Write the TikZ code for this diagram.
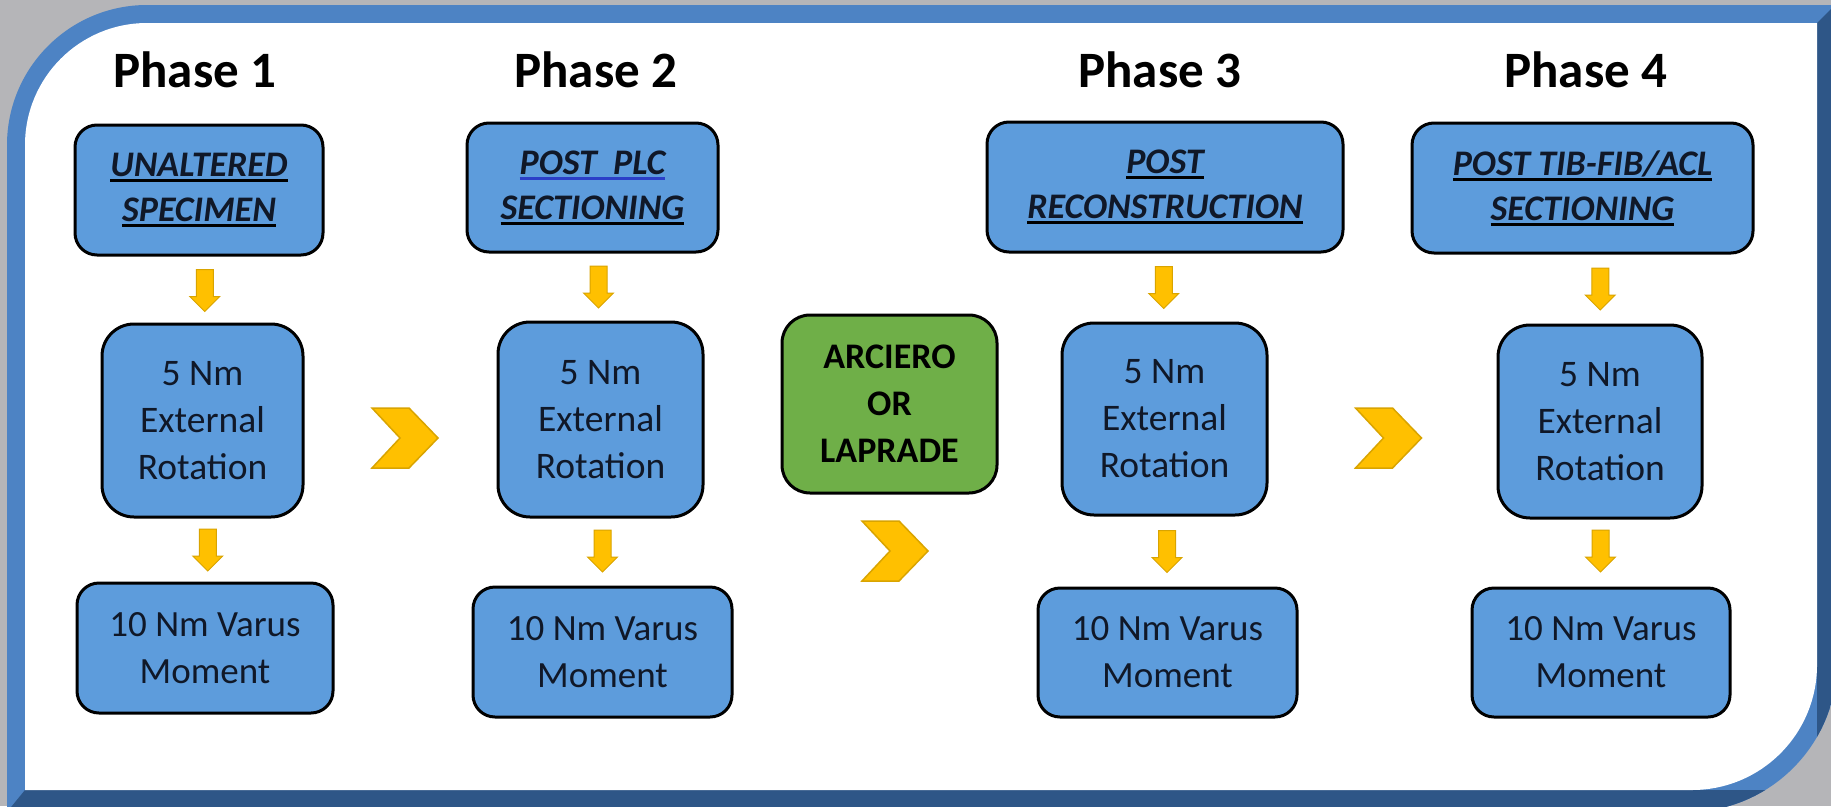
\documentclass[tikz,border=0pt]{standalone}
\usepackage{fontspec}
\setmainfont{Carlito}
\usetikzlibrary{calc}
\definecolor{boxblue}{HTML}{5D9CDC}
\definecolor{boxgreen}{HTML}{6FAF48}
\definecolor{gold}{HTML}{FFC000}
\definecolor{goldedge}{HTML}{D9A400}
\definecolor{frameLight}{HTML}{4D83C4}
\definecolor{frameDark}{HTML}{2E5687}
\definecolor{txt}{HTML}{101828}
\definecolor{bgray}{HTML}{B5B5B8}
\definecolor{spellblue}{HTML}{2B3FC8}
\newcommand{\myul}[2][black]{\setbox0=\hbox{#2}\rlap{\color{#1}\rule[-5.5pt]{\wd0}{2.8pt}}\box0}
\tikzset{
  boxbase/.style={draw=black, line width=3, inner sep=0, align=center, text=txt},
  topbox/.style={boxbase, fill=boxblue, rounded corners=22,
    font=\fontsize{36}{45}\selectfont\bfseries\itshape},
  midbox/.style={boxbase, fill=boxblue, rounded corners=32,
    font=\fontsize{37.5}{47}\selectfont},
  botbox/.style={boxbase, fill=boxblue, rounded corners=22,
    font=\fontsize{37}{47}\selectfont},
  greenbox/.style={boxbase, fill=boxgreen, rounded corners=28, text=black,
    font=\fontsize{36}{47}\selectfont\bfseries},
  phasetitle/.style={anchor=base, inner sep=0, text=black,
    font=\fontsize{51}{60}\selectfont\bfseries},
  downarr/.pic={\filldraw[fill=gold, draw=goldedge, line width=1]
    (-8.5,-21) -- (8.5,-21) -- (8.5,6) -- (15,6) -- (0,21) -- (-15,6) -- (-8.5,6) -- cycle;},
  chev/.pic={\filldraw[fill=gold, draw=goldedge, line width=1.5, line join=miter]
    (-33,-30) -- (4,-30) -- (33,0) -- (4,30) -- (-33,30) -- (-5,0) -- cycle;}
}
\begin{document}
\begin{tikzpicture}[x=1pt, y=-1pt]
\useasboundingbox (0,0) rectangle (1831,806);
\fill[bgray] (0,0) rectangle (1831,806);
% frame
\def\outerpath{(7,812) [rounded corners=140] -- (7,5) [sharp corners] -- (1837,5) [rounded corners=150] -- (1837,812) [sharp corners] -- cycle}
\fill[frameLight] \outerpath;
\begin{scope}
  \clip \outerpath;
  \fill[frameDark] (7,812) -- (25,790) -- (1817,790) -- (1817,23) -- (1837,3) -- (1837,812) -- cycle;
\end{scope}
\fill[white] (25,790) [rounded corners=122] -- (25,23) [sharp corners] -- (1817,23) [rounded corners=125] -- (1817,790) [sharp corners] -- cycle;

% titles
\node[phasetitle] (t1) at (195,87) {Phase 1};
\node[phasetitle] (t2) at (596,87) {Phase 2};
\node[phasetitle] (t3) at (1160,87) {Phase 3};
\node[phasetitle] (t4) at (1586,87) {Phase 4};

% phase 1
\node[topbox, minimum width=248, minimum height=130] (p1a) at (199,190)
  {\myul{UNALTERED}\\\myul{SPECIMEN}};
\node[midbox, minimum width=201, minimum height=193] (p1b) at (202.5,420.5)
  {5 Nm\\External\\Rotation};
\node[botbox, minimum width=256, minimum height=130] (p1c) at (205,648)
  {10 Nm Varus\\Moment};
% phase 2
\node[topbox, minimum width=251, minimum height=129] (p2a) at (592.5,187.5)
  {\myul[spellblue]{POST\ \ PLC}\\\myul{SECTIONING}};
\node[midbox, minimum width=205, minimum height=195] (p2b) at (600.5,419.5)
  {5 Nm\\External\\Rotation};
\node[botbox, minimum width=259, minimum height=130] (p2c) at (602.5,652)
  {10 Nm Varus\\Moment};
% green
\node[greenbox, minimum width=215, minimum height=178] (g) at (889.5,404)
  {ARCIERO\\OR\\LAPRADE};
% phase 3
\node[topbox, minimum width=356, minimum height=130] (p3a) at (1165,187)
  {\myul{POST}\\\myul{RECONSTRUCTION}};
\node[midbox, minimum width=205, minimum height=192] (p3b) at (1164.5,419)
  {5 Nm\\External\\Rotation};
\node[botbox, minimum width=259, minimum height=129] (p3c) at (1167.5,652.5)
  {10 Nm Varus\\Moment};
% phase 4
\node[topbox, minimum width=341, minimum height=130] (p4a) at (1582.5,188)
  {\myul{POST TIB-FIB/ACL}\\\myul{SECTIONING}};
\node[midbox, minimum width=204, minimum height=193] (p4b) at (1600,421.5)
  {5 Nm\\External\\Rotation};
\node[botbox, minimum width=258, minimum height=129] (p4c) at (1601,652.5)
  {10 Nm Varus\\Moment};

% down arrows
\pic at ($(p1a.south)!0.5!(p1b.north)+(4,1)$) {downarr};
\pic at ($(p1b.south)!0.5!(p1c.north)+(4,0)$) {downarr};
\pic at ($(p2a.south)!0.5!(p2b.north)+(2,0)$) {downarr};
\pic at ($(p2b.south)!0.5!(p2c.north)+(1,-1)$) {downarr};
\pic at ($(p3a.south)!0.5!(p3b.north)+(-1,0)$) {downarr};
\pic at ($(p3b.south)!0.5!(p3c.north)+(1,0)$) {downarr};
\pic at ($(p4a.south)!0.5!(p4b.north)+(9,0)$) {downarr};
\pic at ($(p4b.south)!0.5!(p4c.north)+(0,-2)$) {downarr};

% chevrons
\pic at (405,438) {chev};
\pic at (895,551) {chev};
\pic at (1388.5,438) {chev};
\end{tikzpicture}
\end{document}
